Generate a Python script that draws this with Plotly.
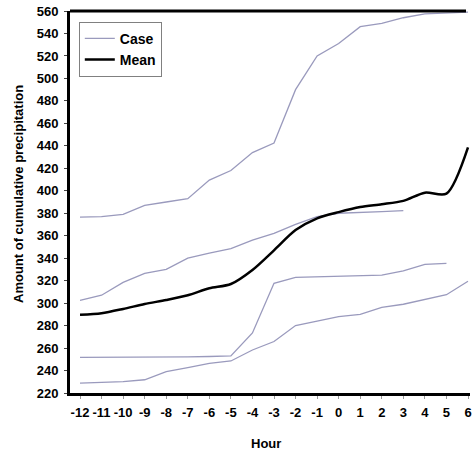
import plotly.graph_objects as go

hours = list(range(-12, 7))
hour_labels = [str(h) for h in hours]

case_a = [376.5, 377, 379, 387, 390, 393, 409.5, 418, 434, 442.5, 490, 520, 531, 546, 549, 554, 557.5, 558.5, 559]
case_b = [302.5, 307, 318.5, 326.5, 330, 340, 344.5, 348.5, 356, 362, 370, 377, 380, 381, 381.5, 382.3]
case_c = [251.7, 251.7, 251.7, 251.7, 251.8, 252.2, 252.5, 253, 273.5, 317.6, 323, 323.5, 323.6, 324, 325, 328.6, 334.5, 335.4]
case_d = [228.8, 229.3, 230.2, 231.8, 239, 242.5, 246.4, 248.5, 258.3, 265.8, 280, 284, 288, 290, 296.3, 299, 303, 307.5, 319.5]
mean = [289.6, 291, 294.8, 299.2, 302.8, 307, 313.2, 317, 329.5, 347, 365, 375.5, 381, 385.5, 388, 391, 398.3, 397.5, 438.7]

case_color = "#9a9abd"
font_family = "Liberation Sans, Arial, sans-serif"

fig = go.Figure()
cases = [case_a, case_b, case_c, case_d]
for i, c in enumerate(cases):
    fig.add_trace(go.Scatter(
        x=hours[:len(c)], y=c, mode="lines",
        line=dict(color=case_color, width=1.3),
        name="Case", showlegend=(i == 0), legendgroup="case",
    ))
fig.add_trace(go.Scatter(
    x=hours, y=mean, mode="lines",
    line=dict(color="black", width=2.5, shape="spline", smoothing=0.8),
    name="Mean",
))

fig.update_layout(
    width=475, height=454,
    margin=dict(l=70, r=5, t=11, b=61, autoexpand=False),
    plot_bgcolor="white", paper_bgcolor="white",
    font=dict(family=font_family, size=13, color="black", weight="bold"),
    showlegend=True,
    legend=dict(
        x=0.022, y=0.972, xanchor="left", yanchor="top",
        bordercolor="#808080", borderwidth=1, bgcolor="white",
        font=dict(size=14, weight="bold"),
        tracegroupgap=0, entrywidth=60,
    ),
    xaxis=dict(
        range=[-12.464, 6.093], tickmode="array", tickvals=hours, ticktext=hour_labels,
        showgrid=False, zeroline=False, automargin=False,
        showline=True, linecolor="black", linewidth=3,
        ticks="outside", ticklen=3, tickcolor="#999", tickwidth=1,
        tickfont=dict(size=13, weight="bold"), ticklabelstandoff=2,
    ),
    yaxis=dict(
        range=[220, 560], dtick=20, tick0=220,
        showgrid=False, zeroline=False, automargin=False,
        showline=True, linecolor="black", linewidth=3,
        ticks="outside", ticklen=3, tickcolor="#444", tickwidth=1,
        tickfont=dict(size=13, weight="bold"), ticklabelstandoff=3,
    ),
    shapes=[dict(type="line", xref="paper", yref="paper", x0=0, x1=0.99, y0=1, y1=1,
                 line=dict(color="black", width=3))],
    annotations=[
        dict(text="Amount of cumulative precipitation", textangle=-90,
             xref="paper", yref="paper", x=0, y=0.521, xanchor="center", yanchor="middle",
             xshift=-51, showarrow=False, font=dict(size=13, weight="bold")),
        dict(text="Hour", xref="paper", yref="paper", x=0.49, y=0, xanchor="center",
             yanchor="middle", yshift=-50, showarrow=False, font=dict(size=13, weight="bold")),
    ],
)

fig.write_html("out.html", config={"displayModeBar": False},
               post_script="document.body.style.margin='0';document.body.style.padding='0';")
